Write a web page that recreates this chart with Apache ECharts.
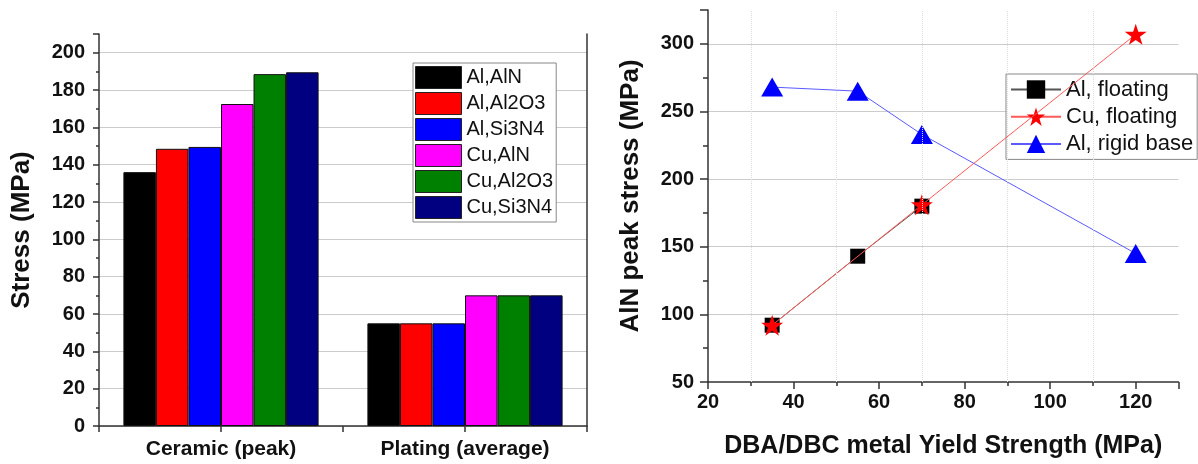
<!DOCTYPE html>
<html>
<head>
<meta charset="utf-8">
<script src="https://cdn.jsdelivr.net/npm/echarts@6/dist/echarts.min.js"></script>
<style>
  html, body { margin: 0; padding: 0; background: #ffffff; }
  #chart { width: 1198px; height: 464px; }
</style>
</head>
<body>
<div id="chart"></div>
<script>
// ---------- Left chart data ----------
const barCategories = ['Ceramic (peak)', 'Plating (average)'];
const barSeriesNames = ['Al,AlN', 'Al,Al2O3', 'Al,Si3N4', 'Cu,AlN', 'Cu,Al2O3', 'Cu,Si3N4'];
const ceramicPeak = [136, 148.5, 149.5, 172.5, 188.5, 189.5];
const platingAverage = [55, 55, 55, 70, 70, 70];
const barColors = ['#000000', '#ff0000', '#0000ff', '#ff00ff', '#008000', '#000080'];

// ---------- Right chart data ----------
const lineSeriesNames = ['Al, floating', 'Cu, floating', 'Al, rigid base'];
const alFloatingX = [35, 55, 70];
const alFloatingY = [92, 143, 180];
const cuFloatingX = [35, 70, 120];
const cuFloatingY = [92, 181, 307];
const alRigidX = [35, 55, 70, 120];
const alRigidY = [268, 265, 233, 145];
const minorGridX = [30, 50, 70, 90, 110];

const FONT = "'Liberation Sans', Arial, Helvetica, sans-serif";
const AXIS_COLOR = '#333333';
const GRID_COLOR = '#cccccc';

function pairs(xs, ys) { return xs.map((x, i) => [x, ys[i]]); }

const starPath = 'path://M50,0 L61.2,34.5 L97.6,34.5 L68.2,55.9 L79.4,90.5 L50,69.1 L20.6,90.5 L31.8,55.9 L2.4,34.5 L38.8,34.5 Z';

const barSeries = barSeriesNames.map((name, i) => ({
  name: name,
  type: 'bar',
  xAxisIndex: 0,
  yAxisIndex: 0,
  data: [ceramicPeak[i], platingAverage[i]],
  barGap: '0%',
  barCategoryGap: '20%',
  itemStyle: { color: barColors[i], borderColor: '#111111', borderWidth: 1 },
  emphasis: { disabled: true }
}));

const lineSeries = [
  {
    name: lineSeriesNames[0], type: 'line', xAxisIndex: 1, yAxisIndex: 1,
    data: pairs(alFloatingX, alFloatingY),
    symbol: 'rect', symbolSize: 15,
    lineStyle: { color: '#555555', width: 1 },
    itemStyle: { color: '#000000' },
    z: 3
  },
  {
    name: lineSeriesNames[1], type: 'line', xAxisIndex: 1, yAxisIndex: 1,
    data: pairs(cuFloatingX, cuFloatingY),
    symbol: starPath, symbolSize: [22, 21],
    lineStyle: { color: '#ff5a5a', width: 1 },
    itemStyle: { color: '#ff0000' },
    z: 4
  },
  {
    name: lineSeriesNames[2], type: 'line', xAxisIndex: 1, yAxisIndex: 1,
    data: pairs(alRigidX, alRigidY),
    symbol: 'triangle', symbolSize: [22, 19],
    lineStyle: { color: '#5a5aff', width: 1 },
    itemStyle: { color: '#0000ff' },
    markLine: {
      silent: true, symbol: 'none', label: { show: false },
      lineStyle: { color: '#dddddd', type: 'dotted', width: 1 },
      data: minorGridX.map(v => ({ xAxis: v }))
    },
    z: 2
  }
];

const option = {
  animation: false,
  backgroundColor: '#ffffff',
  textStyle: { fontFamily: FONT, color: '#111111' },
  grid: [
    { left: 99, right: 611, top: 34, bottom: 38 },
    { left: 708, right: 19.5, top: 10, bottom: 75 }
  ],
  legend: [
    {
      data: barSeriesNames,
      orient: 'vertical',
      left: 413, top: 63,
      itemWidth: 46, itemHeight: 22, itemGap: 3,
      padding: [3, 3, 3, 2],
      icon: 'rect',
      borderColor: '#888888', borderWidth: 1,
      backgroundColor: '#ffffff',
      itemStyle: { borderColor: '#222222', borderWidth: 1 },
      textStyle: { fontFamily: FONT, fontSize: 20, color: '#111111', lineHeight: 22 },
      selectedMode: false
    },
    {
      data: lineSeriesNames,
      orient: 'vertical',
      left: 1006, top: 74,
      itemWidth: 50, itemHeight: 23, itemGap: 4.2,
      padding: [4, 4, 4, 4],
      borderColor: '#888888', borderWidth: 1,
      backgroundColor: '#ffffff',
      textStyle: { fontFamily: FONT, fontSize: 22, color: '#111111', lineHeight: 23 },
      selectedMode: false
    }
  ],
  xAxis: [
    {
      type: 'category', gridIndex: 0, data: barCategories,
      axisLine: { show: true, lineStyle: { color: AXIS_COLOR, width: 1.5 } },
      axisTick: { show: false },
      axisLabel: { fontFamily: FONT, fontSize: 21, fontWeight: 'bold', color: '#111111', margin: 13 },
      splitLine: { show: false }
    },
    {
      type: 'value', gridIndex: 1, min: 20, max: 130, interval: 20,
      name: 'DBA/DBC metal Yield Strength (MPa)',
      nameLocation: 'middle', nameGap: 52,
      nameTextStyle: { fontFamily: FONT, fontSize: 25, fontWeight: 'bold', color: '#111111' },
      axisLine: { show: true, onZero: false, lineStyle: { color: AXIS_COLOR, width: 1.5 } },
      axisTick: { show: true, inside: false, length: 7, lineStyle: { color: AXIS_COLOR, width: 1.5 } },
      minorTick: { show: true, splitNumber: 2, length: 4, lineStyle: { color: AXIS_COLOR, width: 1.5 } },
      axisLabel: { fontFamily: FONT, fontSize: 20, fontWeight: 'bold', color: '#111111', margin: 10, showMaxLabel: false },
      splitLine: { show: false },
      minorSplitLine: { show: false }
    },
    {
      type: 'value', gridIndex: 0, position: 'bottom', min: 0, max: barCategories.length * 2, interval: 1,
      axisLine: { show: false },
      axisTick: { show: true, length: 6, lineStyle: { color: AXIS_COLOR, width: 1.5 } },
      axisLabel: { show: false },
      splitLine: { show: false }
    }
  ],
  yAxis: [
    {
      type: 'value', gridIndex: 0, min: 0, max: 210, interval: 20,
      name: 'Stress (MPa)',
      nameLocation: 'middle', nameGap: 64,
      nameTextStyle: { fontFamily: FONT, fontSize: 26, fontWeight: 'bold', color: '#111111' },
      axisLine: { show: true, lineStyle: { color: AXIS_COLOR, width: 1.5 } },
      axisTick: { show: true, length: 6, lineStyle: { color: AXIS_COLOR, width: 1.5 } },
      minorTick: { show: true, splitNumber: 2, length: 3, lineStyle: { color: AXIS_COLOR, width: 1.5 } },
      axisLabel: { fontFamily: FONT, fontSize: 20, fontWeight: 'bold', color: '#111111', margin: 14, showMaxLabel: false },
      splitLine: { show: true, showMaxLine: false, lineStyle: { color: GRID_COLOR, width: 1 } }
    },
    {
      type: 'value', gridIndex: 1, min: 50, max: 325, interval: 50,
      name: 'AlN peak stress (MPa)',
      nameLocation: 'middle', nameGap: 64,
      nameTextStyle: { fontFamily: FONT, fontSize: 26, fontWeight: 'bold', color: '#111111' },
      axisLine: { show: true, onZero: false, lineStyle: { color: AXIS_COLOR, width: 1.5 } },
      axisTick: { show: true, length: 8, lineStyle: { color: AXIS_COLOR, width: 1.5 } },
      minorTick: { show: true, splitNumber: 2, length: 5, lineStyle: { color: AXIS_COLOR, width: 1.5 } },
      axisLabel: { fontFamily: FONT, fontSize: 20, fontWeight: 'bold', color: '#111111', margin: 14, showMaxLabel: false },
      splitLine: { show: true, showMaxLine: false, showMinLine: false, lineStyle: { color: GRID_COLOR, width: 1 } }
    },
    {
      type: 'value', gridIndex: 0, position: 'right', min: 0, max: 210,
      axisLine: { show: true, lineStyle: { color: AXIS_COLOR, width: 1.5 } },
      axisTick: { show: false },
      axisLabel: { show: false },
      splitLine: { show: false }
    }
  ],
  series: barSeries.concat(lineSeries)
};

const chart = echarts.init(document.getElementById('chart'), null, { renderer: 'canvas' });
chart.setOption(option);
</script>
</body>
</html>
